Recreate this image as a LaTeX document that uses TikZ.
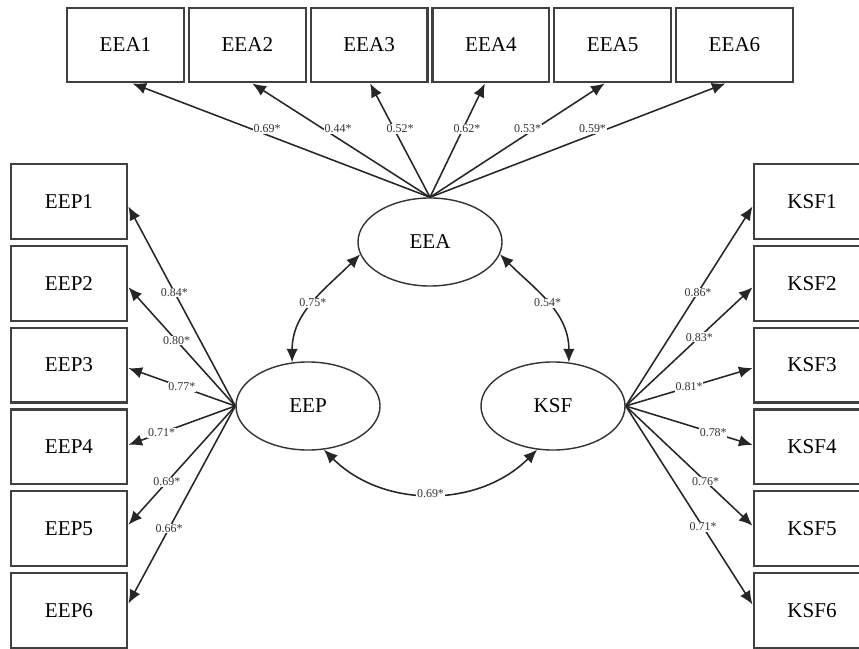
\documentclass[tikz,border=0pt]{standalone}
\usepackage{fontspec}
\setmainfont{Liberation Serif}
\usetikzlibrary{arrows.meta,calc,shapes.geometric}
\begin{document}
\begin{tikzpicture}[x=0.025cm,y=-0.025cm,
    item/.style={draw=black!75,line width=1.5pt,minimum width=2.92cm,minimum height=1.87cm,inner sep=0pt,font=\fontsize{15}{17}\selectfont},
    factor/.style={ellipse,draw=black!80,line width=1pt,minimum width=3.6cm,minimum height=2.2cm,inner sep=0pt,font=\fontsize{15}{17}\selectfont},
    load/.style={draw=black!85,line width=1.1pt,-{Latex[length=3.4mm,width=2.9mm]}},
    cov/.style={draw=black!85,line width=1.1pt,{Latex[length=3.4mm,width=2.9mm]}-{Latex[length=3.4mm,width=2.9mm]}},
    coef/.style={fill=white,inner sep=0.5pt,text=black!80,font=\fontsize{8.5}{9}\selectfont}]
    \useasboundingbox (0,0) rectangle (859,649);
    \node[factor] (EEA) at (430,242) {EEA};
    \node[factor] (EEP) at (308,406) {EEP};
    \node[factor] (KSF) at (553,406) {KSF};
    \foreach \i in {1,...,6}{
        \node[item] (EEA\i) at ({125.5+121.8*(\i-1)},45) {EEA\i};
        \node[item] (EEP\i) at (69,{201.5+81.8*(\i-1)}) {EEP\i};
        \node[item] (KSF\i) at (812,{201.5+81.8*(\i-1)}) {KSF\i};
    }
    \foreach \i/\d/\v/\s in {1/7/0.69/0.39, 2/5/0.44/0.37, 3/1/0.52/0.15, 4/-6/0.62/0.1, 5/-8/0.53/-0.18, 6/-9/0.59/-0.37}
        \draw[load] (EEA.north) -- ($(EEA\i.south)+(\d,0)$) node[coef,pos=0.6,xshift=\s cm]{\v*};
    \foreach \i/\d/\v/\p in {1/5/0.84/0.57, 2/4/0.80/0.55, 3/3/0.77/0.5, 4/-2/0.71/0.69, 5/-4/0.69/0.64, 6/-7/0.66/0.62}
        \draw[load] (EEP.west) -- ($(EEP\i.east)+(0,\d)$) node[coef,pos=\p]{\v*};
    \foreach \i/\d/\v/\p in {1/5/0.86/0.57, 2/4/0.83/0.58, 3/3/0.81/0.5, 4/-2/0.78/0.69, 5/-3/0.76/0.63, 6/-6/0.71/0.61}
        \draw[load] (KSF.east) -- ($(KSF\i.west)+(0,\d)$) node[coef,pos=\p]{\v*};
    \draw[cov] (EEP.110) to[out=90,in=225] node[coef]{0.75*} (EEA.190);
    \draw[cov] (EEA.350) to[out=-45,in=90] node[coef]{0.54*} (KSF.70);
    \draw[cov] (EEP.290) to[out=-45,in=225] node[coef]{0.69*} (KSF.250);
\end{tikzpicture}
\end{document}
